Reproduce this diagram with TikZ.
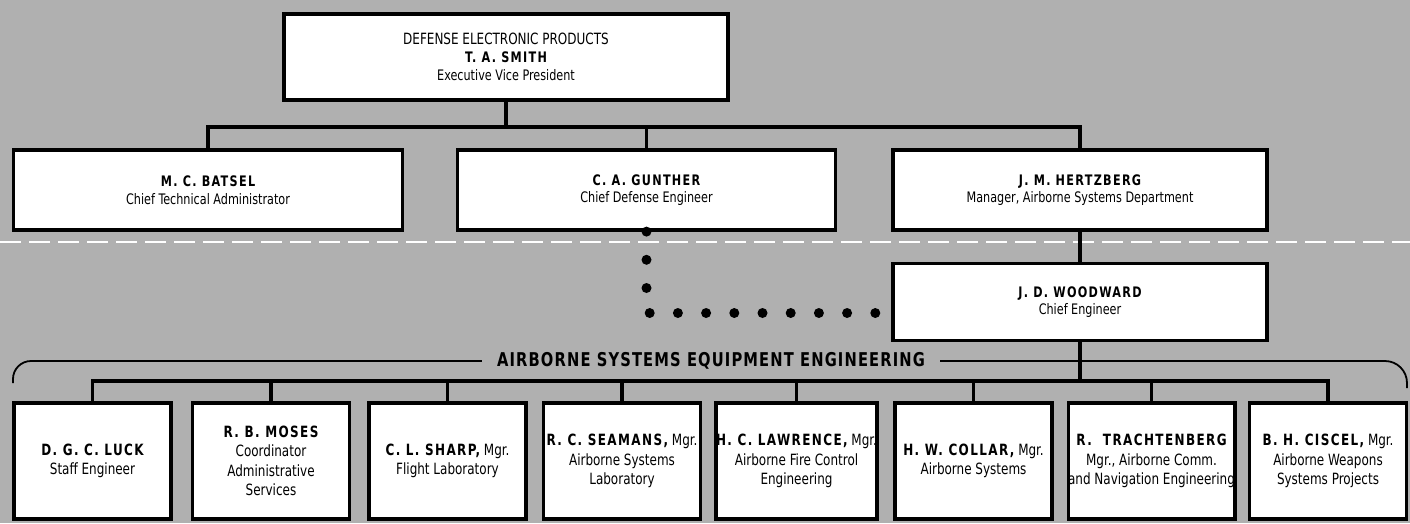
\documentclass[tikz,border=0pt]{standalone}
\usepackage{fontspec}
\setmainfont{DejaVu Sans Condensed}[FakeStretch=0.86]
\usepackage{tikz}
\usetikzlibrary{calc}

\definecolor{screen}{gray}{0.69}
\newcommand{\nm}[1]{{\bfseries\addfontfeatures{LetterSpace=9}#1}}

\begin{document}
\begin{tikzpicture}[x=1pt, y=-1pt,
    chart/.style={draw, line width=3.2pt, fill=white, align=center, inner sep=0pt},
    topbox/.style={chart, minimum width=444pt, minimum height=86pt, font=\fontsize{14.5}{18}\selectfont},
    midbox/.style={chart, minimum width=374pt, minimum height=80pt, font=\fontsize{14.5}{17.5}\selectfont},
    lowbox/.style={chart, minimum width=157pt, minimum height=116pt, font=\fontsize{15.5}{19.5}\selectfont},
    link/.style={line width=3.2pt},
    dotlink/.style={line width=10pt, line cap=round, dash pattern=on 0pt off 28.2pt}]

        % halftone background and page size
        \fill[screen] (0,0) rectangle (1410,523);
        \useasboundingbox (0,0) rectangle (1410,523);

        % white dashed separation line
        \draw[white, line width=2.8pt, dash pattern=on 21pt off 8pt] (0,242) -- (1410,242);

        % top box
        \node[topbox] (smith) at (506,57) {{\fontsize{15.5}{18}\selectfont DEFENSE ELECTRONIC PRODUCTS}\\ \nm{T. A. SMITH}\\ Executive Vice President};

        % second level
        \node[midbox, minimum width=389pt] (batsel) at (208,190) {\nm{M. C. BATSEL}\\ Chief Technical Administrator};
        \node[midbox, minimum width=378pt] (gunther) at (646.5,190) {\nm{C. A. GUNTHER}\\ Chief Defense Engineer};
        \node[midbox] (hertzberg) at (1080,190) {\nm{J. M. HERTZBERG}\\ Manager, Airborne Systems Department};

        % chief engineer
        \node[midbox, minimum height=77pt] (woodward) at (1080,302) {\nm{J. D. WOODWARD}\\ Chief Engineer};

        % equipment engineering sections
        \node[lowbox] (luck) at (92.5,461) {\nm{D.\ G.\ C.\ LUCK}\\ Staff Engineer};
        \node[lowbox] (moses) at (271,461) {\nm{R. B. MOSES}\\ Coordinator\\ Administrative\\ Services};
        \node[lowbox] (sharp) at (447.5,461) {\nm{C. L. SHARP,} Mgr.\\ Flight Laboratory};
        \node[lowbox] (seamans) at (622,461) {\nm{R. C. SEAMANS,} Mgr.\\ Airborne Systems\\ Laboratory};
        \node[lowbox] (lawrence) at (796.5,461) {\nm{H. C. LAWRENCE,} Mgr.\\ Airborne Fire Control\\ Engineering};
        \node[lowbox] (collar) at (973.5,461) {\nm{H. W. COLLAR,} Mgr.\\ Airborne Systems};
        \node[lowbox] (trachtenberg) at (1151.5,461) {\nm{R.\ \ TRACHTENBERG}\\ Mgr., Airborne Comm.\\ and Navigation Engineering};
        \node[lowbox] (ciscel) at (1328,461) {\nm{B. H. CISCEL,} Mgr.\\ Airborne Weapons\\ Systems Projects};

        % group label with its brace line
        \node[inner xsep=15pt, font=\fontsize{19}{21}\selectfont] (group) at (711,361) {\bfseries\addfontfeatures{LetterSpace=6}AIRBORNE SYSTEMS EQUIPMENT ENGINEERING};
        \draw[line width=1.8pt, rounded corners=18pt] (13,383) |- (group.west);
        \draw[line width=1.8pt, rounded corners=22pt] (group.east) -| (1407,388);

        % upper bus
        \coordinate (topbus) at (506,127);
        \draw[link] (smith.south) -- (topbus);
        \draw[link] (batsel.north) |- (topbus) -| (hertzberg.north);
        \draw[link] (gunther.north) -- (gunther.north |- topbus);
        \draw[link] (hertzberg) -- (woodward);

        % lower bus
        \coordinate (lowbus) at (1080,381);
        \draw[link] (woodward.south) -- (lowbus);
        \draw[link] (luck.north) |- (lowbus) -| (ciscel.north);
        \foreach \who in {moses, sharp, seamans, lawrence, collar, trachtenberg}
            \draw[link] (\who.north) -- (\who.north |- lowbus);

        % dotted staff relation
        \coordinate (dotend) at (892,313);
        \draw[dotlink] (gunther.south) |- (dotend);

    \end{tikzpicture}
\end{document}
